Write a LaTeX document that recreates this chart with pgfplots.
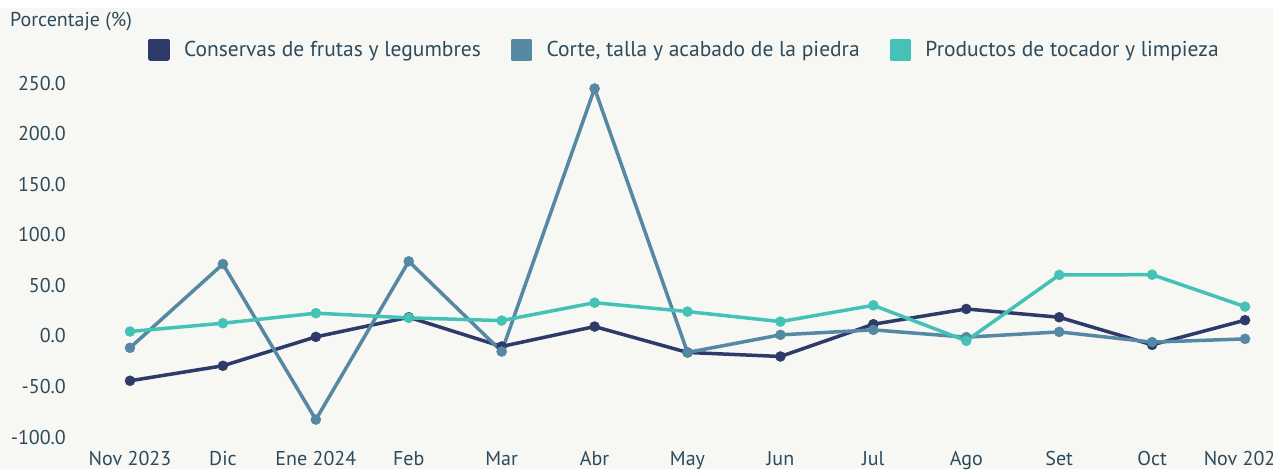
\documentclass[border=0pt]{standalone}
\usepackage{pgfplots}
\pgfplotsset{compat=1.18}
\usepackage{fontspec}
\setmainfont{PT Sans}
\definecolor{bgc}{HTML}{F7F7F3}
\definecolor{txt}{HTML}{2D4B5C}
\definecolor{cnavy}{HTML}{2E3A6A}
\definecolor{csteel}{HTML}{5589A3}
\definecolor{cteal}{HTML}{45C2B8}
\begin{document}
\begin{tikzpicture}[x=1pt,y=1pt]
\clip (0,0) rectangle (1273,469);
\fill[bgc] (0,0) rectangle (1273,469);
\fill[white] (0,461) rectangle (1273,469);
\node[anchor=west, inner sep=0pt, text=txt, font=\fontsize{20}{24}\selectfont] at (10,447) {Porcentaje (\%)};
\begin{axis}[
  at={(69.6pt,32pt)}, anchor=south west,
  scale only axis, width=1203.3pt, height=354pt,
  xmin=-0.65, xmax=12.3, ymin=-100, ymax=250,
  axis line style={draw=none}, major tick length=0pt,
  clip=false,
  xtick={0,...,12},
  xticklabels={Nov 2023,Dic,Ene 2024,Feb,Mar,Abr,May,Jun,Jul,Ago,Set,Oct,Nov 2024},
  ytick={-100,-50,0,50,100,150,200,250},
  yticklabel={\pgfmathprintnumber[fixed,fixed zerofill,precision=1,assume math mode=true]{\tick}},
  tick label style={text=txt, font=\fontsize{20}{24}\selectfont},
  xticklabel style={anchor=base, yshift=-28pt, inner sep=0pt},
  yticklabel style={anchor=east, inner sep=0pt, xshift=-3.5pt},
  legend columns=3,
  legend style={draw=none, fill=none, at={(0.0652,1.093)}, anchor=west, inner sep=0pt,
    font=\fontsize{21.5}{25}\selectfont, text=txt,
    /tikz/every even column/.append style={column sep=28pt}},
  legend image code/.code={\fill[#1] (0pt,-9pt) rectangle (18pt,9pt); \path[draw=none,fill=none] (0pt,0pt) rectangle (32pt,0.1pt);},
  every axis plot/.append style={line width=3.5pt, mark=*, mark size=5pt, line join=round, mark options={line width=0.5pt}},
]
\addplot[color=cnavy] coordinates {(0,-44.4) (1,-29.6) (2,-1.0) (3,18.4) (4,-10.5) (5,9.2) (6,-16.4) (7,-20.4) (8,11.5) (9,26.6) (10,18.4) (11,-8.9) (12,15.5)};
\addlegendentry{Conservas de frutas y legumbres}
\addplot[color=csteel] coordinates {(0,-11.8) (1,71.0) (2,-82.8) (3,73.7) (4,-15.5) (5,244.6) (6,-16.4) (7,1.0) (8,5.9) (9,-1.3) (10,3.9) (11,-6.2) (12,-3.0)};
\addlegendentry{Corte, talla y acabado de la piedra}
\addplot[color=cteal] coordinates {(0,4.3) (1,12.5) (2,22.4) (3,17.8) (4,15.1) (5,32.8) (6,24.0) (7,14.1) (8,30.2) (9,-4.9) (10,60.2) (11,60.5) (12,28.9)};
\addlegendentry{Productos de tocador y limpieza}
\end{axis}
\end{tikzpicture}
\end{document}
